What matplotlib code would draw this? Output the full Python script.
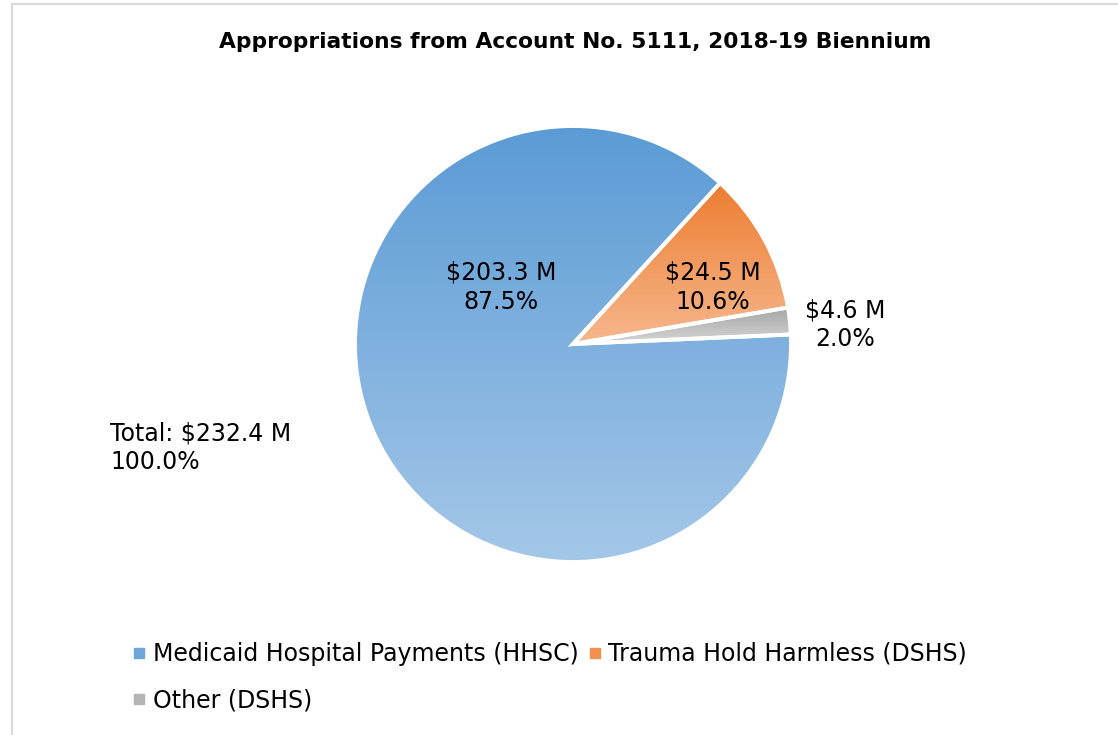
import numpy as np
import matplotlib
matplotlib.use("Agg")
import matplotlib.pyplot as plt
from matplotlib.colors import LinearSegmentedColormap
from matplotlib.lines import Line2D
from matplotlib.patches import Rectangle

plt.rcParams['font.family'] = ['DejaVu Sans']

# ---- data ----
categories = ["Medicaid Hospital Payments (HHSC)", "Trauma Hold Harmless (DSHS)", "Other (DSHS)"]
values = [203.3, 24.5, 4.6]
percents = ["87.5%", "10.6%", "2.0%"]
total_value = 232.4
total_percent = "100.0%"
title = "Appropriations from Account No. 5111, 2018-19 Biennium"

# gradient colours (top, bottom)
grad_colors = [("#5B9BD5", "#A4C7E8"), ("#ED7D31", "#F6B88E"), ("#A5A5A5", "#D6D6D6")]
legend_colors = ["#6FA6DA", "#F0914F", "#B4B4B4"]

W, H = 1118, 735
fig = plt.figure(figsize=(W / 100, H / 100), dpi=100)
fig.patch.set_facecolor("white")

# chart border (left/top visible, right/bottom beyond canvas)
fig.patches.append(Rectangle((12 / W, -0.05), 1.1, 1 - 4 / H + 0.05, transform=fig.transFigure,
                             fill=False, edgecolor="#D9D9D9", linewidth=1.6))

cx, cy, r = 573, 344, 218
ax = fig.add_axes([(cx - r) / W, (H - cy - r) / H, 2 * r / W, 2 * r / H])
wedges, _ = ax.pie(values, startangle=2.5, counterclock=False, radius=1.0,
                   wedgeprops=dict(edgecolor="white", linewidth=2.8, facecolor="none"))
ax.set_aspect("equal")
ax.axis("off")

grad = np.linspace(0, 1, 256).reshape(-1, 1)
for w, (ctop, cbot) in zip(wedges, grad_colors):
    w.set_zorder(3)
    ext = w.get_path().get_extents()
    cmap = LinearSegmentedColormap.from_list("g", [ctop, cbot])
    im = ax.imshow(grad, cmap=cmap, aspect="auto", origin="upper",
                   extent=(ext.x0, ext.x1, ext.y0, ext.y1), zorder=2, interpolation="bilinear")
    im.set_clip_path(w)
ax.set_xlim(-1.0, 1.0)
ax.set_ylim(-1.0, 1.0)

FS = 17
# data labels
label_pos = [(-0.33, 0.26), (0.64, 0.26), (1.25, 0.09)]
for v, p, (lx, ly) in zip(values, percents, label_pos):
    ax.text(lx, ly, f"${v:.1f} M\n{p}", ha="center", va="center", fontsize=FS,
            color="black", linespacing=1.25, zorder=5, clip_on=False)

fig.text(110 / W, 1 - 448 / H, f"Total: ${total_value:.1f} M\n{total_percent}", ha="left",
         va="center", fontsize=FS, linespacing=1.25)

fig.text(575 / W, 1 - 42 / H, title, ha="center", va="center", fontsize=15.7, fontweight="bold")

# legend
order = [0, 2, 1]
handles = [Line2D([], [], marker="s", linestyle="none", markersize=7,
                  markerfacecolor=legend_colors[i], markeredgecolor=legend_colors[i]) for i in order]
labels = [categories[i] for i in order]
fig.legend(handles, labels, loc="upper left", bbox_to_anchor=(133 / W, 1 - 642 / H), ncol=2,
           frameon=False, fontsize=FS, handlelength=0.55, handletextpad=0.3,
           columnspacing=0.4, labelspacing=0.95, borderaxespad=0, borderpad=0)

fig.savefig("out.png", dpi=100, facecolor="white")
